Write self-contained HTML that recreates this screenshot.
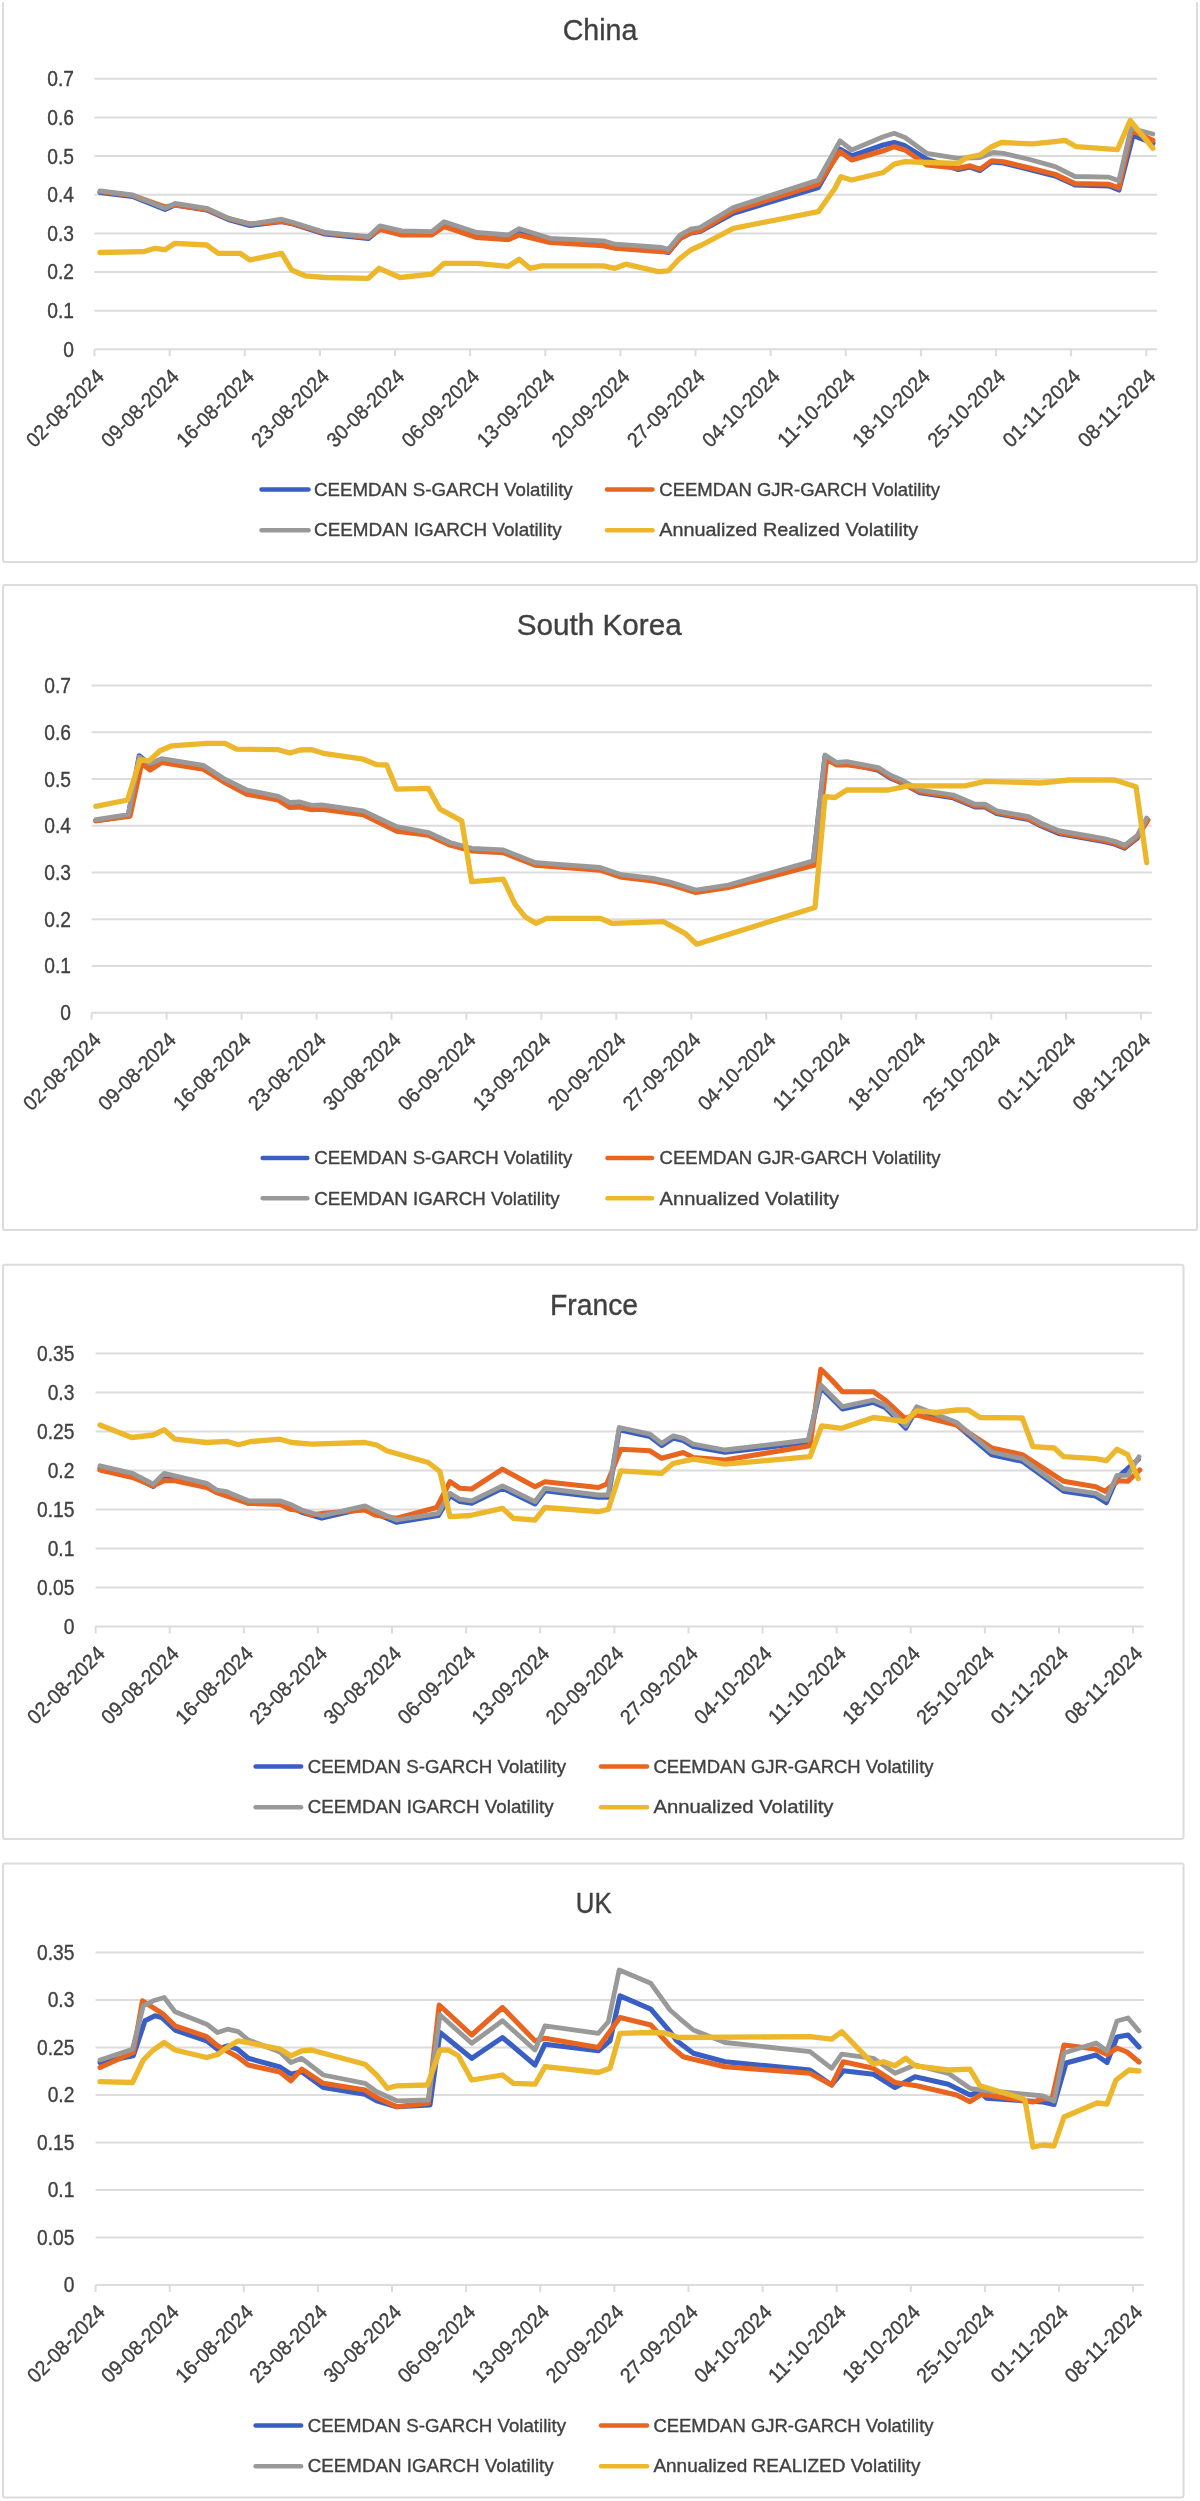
<!DOCTYPE html><html><head><meta charset="utf-8"><title>Volatility charts</title><style>html,body{margin:0;padding:0;background:#fff;width:1200px;height:2501px;overflow:hidden}svg{display:block;filter:blur(0.45px)}text{font-family:"Liberation Sans",sans-serif;fill:#404040;stroke:#404040;stroke-width:0.35px}</style></head><body>
<svg width="1200" height="2501" viewBox="0 0 1200 2501">
<rect x="0" y="0" width="1200" height="2501" fill="#fff"/>
<rect x="3" y="-10" width="1194" height="572" rx="2" fill="#fff" stroke="#dcdcdc" stroke-width="2"/>
<text x="600" y="40.3" font-size="30" text-anchor="middle" textLength="74.7" lengthAdjust="spacingAndGlyphs">China</text>
<text x="74" y="356.7" font-size="21.5" text-anchor="end" textLength="10.7" lengthAdjust="spacingAndGlyphs">0</text>
<line x1="94.5" y1="310.7" x2="1157" y2="310.7" stroke="#dcdcdc" stroke-width="2"/>
<text x="74" y="318.1" font-size="21.5" text-anchor="end" textLength="26.7" lengthAdjust="spacingAndGlyphs">0.1</text>
<line x1="94.5" y1="272" x2="1157" y2="272" stroke="#dcdcdc" stroke-width="2"/>
<text x="74" y="279.4" font-size="21.5" text-anchor="end" textLength="26.7" lengthAdjust="spacingAndGlyphs">0.2</text>
<line x1="94.5" y1="233.4" x2="1157" y2="233.4" stroke="#dcdcdc" stroke-width="2"/>
<text x="74" y="240.8" font-size="21.5" text-anchor="end" textLength="26.7" lengthAdjust="spacingAndGlyphs">0.3</text>
<line x1="94.5" y1="194.7" x2="1157" y2="194.7" stroke="#dcdcdc" stroke-width="2"/>
<text x="74" y="202.1" font-size="21.5" text-anchor="end" textLength="26.7" lengthAdjust="spacingAndGlyphs">0.4</text>
<line x1="94.5" y1="156.1" x2="1157" y2="156.1" stroke="#dcdcdc" stroke-width="2"/>
<text x="74" y="163.5" font-size="21.5" text-anchor="end" textLength="26.7" lengthAdjust="spacingAndGlyphs">0.5</text>
<line x1="94.5" y1="117.4" x2="1157" y2="117.4" stroke="#dcdcdc" stroke-width="2"/>
<text x="74" y="124.8" font-size="21.5" text-anchor="end" textLength="26.7" lengthAdjust="spacingAndGlyphs">0.6</text>
<line x1="94.5" y1="78.8" x2="1157" y2="78.8" stroke="#dcdcdc" stroke-width="2"/>
<text x="74" y="86.2" font-size="21.5" text-anchor="end" textLength="26.7" lengthAdjust="spacingAndGlyphs">0.7</text>
<line x1="94.5" y1="349.3" x2="1157" y2="349.3" stroke="#dcdcdc" stroke-width="2"/>
<line x1="94.5" y1="349.3" x2="94.5" y2="356.3" stroke="#dcdcdc" stroke-width="2"/>
<text x="105.1" y="377.7" font-size="20.5" text-anchor="end" textLength="100" lengthAdjust="spacingAndGlyphs" transform="rotate(-45 105.1 377.7)">02-08-2024</text>
<line x1="169.6" y1="349.3" x2="169.6" y2="356.3" stroke="#dcdcdc" stroke-width="2"/>
<text x="180.2" y="377.7" font-size="20.5" text-anchor="end" textLength="100" lengthAdjust="spacingAndGlyphs" transform="rotate(-45 180.2 377.7)">09-08-2024</text>
<line x1="244.8" y1="349.3" x2="244.8" y2="356.3" stroke="#dcdcdc" stroke-width="2"/>
<text x="255.4" y="377.7" font-size="20.5" text-anchor="end" textLength="100" lengthAdjust="spacingAndGlyphs" transform="rotate(-45 255.4 377.7)">16-08-2024</text>
<line x1="319.9" y1="349.3" x2="319.9" y2="356.3" stroke="#dcdcdc" stroke-width="2"/>
<text x="330.5" y="377.7" font-size="20.5" text-anchor="end" textLength="100" lengthAdjust="spacingAndGlyphs" transform="rotate(-45 330.5 377.7)">23-08-2024</text>
<line x1="395" y1="349.3" x2="395" y2="356.3" stroke="#dcdcdc" stroke-width="2"/>
<text x="405.6" y="377.7" font-size="20.5" text-anchor="end" textLength="100" lengthAdjust="spacingAndGlyphs" transform="rotate(-45 405.6 377.7)">30-08-2024</text>
<line x1="470.1" y1="349.3" x2="470.1" y2="356.3" stroke="#dcdcdc" stroke-width="2"/>
<text x="480.7" y="377.7" font-size="20.5" text-anchor="end" textLength="100" lengthAdjust="spacingAndGlyphs" transform="rotate(-45 480.7 377.7)">06-09-2024</text>
<line x1="545.3" y1="349.3" x2="545.3" y2="356.3" stroke="#dcdcdc" stroke-width="2"/>
<text x="555.9" y="377.7" font-size="20.5" text-anchor="end" textLength="100" lengthAdjust="spacingAndGlyphs" transform="rotate(-45 555.9 377.7)">13-09-2024</text>
<line x1="620.4" y1="349.3" x2="620.4" y2="356.3" stroke="#dcdcdc" stroke-width="2"/>
<text x="631" y="377.7" font-size="20.5" text-anchor="end" textLength="100" lengthAdjust="spacingAndGlyphs" transform="rotate(-45 631 377.7)">20-09-2024</text>
<line x1="695.5" y1="349.3" x2="695.5" y2="356.3" stroke="#dcdcdc" stroke-width="2"/>
<text x="706.1" y="377.7" font-size="20.5" text-anchor="end" textLength="100" lengthAdjust="spacingAndGlyphs" transform="rotate(-45 706.1 377.7)">27-09-2024</text>
<line x1="770.6" y1="349.3" x2="770.6" y2="356.3" stroke="#dcdcdc" stroke-width="2"/>
<text x="781.2" y="377.7" font-size="20.5" text-anchor="end" textLength="100" lengthAdjust="spacingAndGlyphs" transform="rotate(-45 781.2 377.7)">04-10-2024</text>
<line x1="845.8" y1="349.3" x2="845.8" y2="356.3" stroke="#dcdcdc" stroke-width="2"/>
<text x="856.4" y="377.7" font-size="20.5" text-anchor="end" textLength="100" lengthAdjust="spacingAndGlyphs" transform="rotate(-45 856.4 377.7)">11-10-2024</text>
<line x1="920.9" y1="349.3" x2="920.9" y2="356.3" stroke="#dcdcdc" stroke-width="2"/>
<text x="931.5" y="377.7" font-size="20.5" text-anchor="end" textLength="100" lengthAdjust="spacingAndGlyphs" transform="rotate(-45 931.5 377.7)">18-10-2024</text>
<line x1="996" y1="349.3" x2="996" y2="356.3" stroke="#dcdcdc" stroke-width="2"/>
<text x="1006.6" y="377.7" font-size="20.5" text-anchor="end" textLength="100" lengthAdjust="spacingAndGlyphs" transform="rotate(-45 1006.6 377.7)">25-10-2024</text>
<line x1="1071.1" y1="349.3" x2="1071.1" y2="356.3" stroke="#dcdcdc" stroke-width="2"/>
<text x="1081.7" y="377.7" font-size="20.5" text-anchor="end" textLength="100" lengthAdjust="spacingAndGlyphs" transform="rotate(-45 1081.7 377.7)">01-11-2024</text>
<line x1="1146.3" y1="349.3" x2="1146.3" y2="356.3" stroke="#dcdcdc" stroke-width="2"/>
<text x="1156.9" y="377.7" font-size="20.5" text-anchor="end" textLength="100" lengthAdjust="spacingAndGlyphs" transform="rotate(-45 1156.9 377.7)">08-11-2024</text>
<path d="M100 192.5 L132.5 196.5 L165 209.5 L175 205 L206.7 210 L228.3 219.5 L250 225.5 L281.7 221.5 L293.3 224 L325 234 L368.3 238.5 L380 229 L401.7 234 L431.7 234.5 L444.2 225 L476.7 236 L508.3 238.5 L519.2 232.5 L550 241.5 L603.3 244.5 L615 247.5 L661.7 251 L668.3 252.5 L680 238.5 L690.8 233 L700 231.5 L733.3 213.3 L818.3 187.5 L840 149.2 L851.7 155.8 L883.3 145 L894.2 142.5 L905 145.8 L926.7 159.2 L958.3 169.5 L970 167 L980 170.5 L991.7 162 L1003.3 163 L1029.7 169.5 L1055.2 176 L1075 185 L1109 186 L1118.9 190 L1133 135.4 L1152.9 143.2" fill="none" stroke="#3a5fc4" stroke-width="5.1" stroke-linejoin="round" stroke-linecap="round"/>
<path d="M100 191.5 L132.5 195.5 L165 207 L175 205 L206.7 209.5 L228.3 218.5 L250 224 L281.7 221.5 L293.3 223.5 L325 233 L368.3 237.5 L380 229.2 L401.7 235 L431.7 235 L444.2 226.7 L476.7 237.5 L508.3 239.7 L519.2 235 L550 242.5 L603.3 245.8 L615 248.3 L661.7 251.7 L668.3 251.7 L680 238.3 L690.8 232.5 L700 230.8 L733.3 210.8 L818.3 184.2 L840 151.7 L851.7 160 L883.3 150.8 L894.2 146.7 L905 150 L926.7 165 L958.3 168.3 L970 165.8 L980 169.2 L991.7 160.8 L1003.3 161.7 L1029.7 168 L1055.2 174.4 L1075 183.6 L1109 184.3 L1118.9 187.8 L1131.7 130.5 L1152.9 140.4" fill="none" stroke="#e8641f" stroke-width="5.1" stroke-linejoin="round" stroke-linecap="round"/>
<path d="M100 190.8 L132.5 195 L165 208.3 L175 203.3 L206.7 208.3 L228.3 218.3 L250 224.2 L281.7 219.2 L293.3 222.5 L325 232.5 L368.3 236.7 L380 225.8 L401.7 230.8 L431.7 231.7 L444.2 221.7 L476.7 232.5 L508.3 235 L519.2 228.7 L550 238.3 L603.3 240.8 L615 244.2 L661.7 247.5 L668.3 249.2 L680 235 L690.8 229.2 L700 227.5 L733.3 207.5 L818.3 180 L840 140.8 L851.7 150 L883.3 136.7 L894.2 133.3 L905 137.5 L926.7 153.3 L958.3 158.3 L980 157.5 L993.3 152.5 L1003.3 153.3 L1029.7 159.5 L1055.2 166.6 L1075 176.5 L1109 177.2 L1118.9 180.7 L1131 128.3 L1152.9 134" fill="none" stroke="#999999" stroke-width="4.8" stroke-linejoin="round" stroke-linecap="round"/>
<path d="M100 252.5 L143.3 251.7 L155 248.3 L165 249.7 L175 243.3 L206.7 245 L218.3 253.3 L240 253.3 L250 260 L281.7 253.3 L291.7 270 L305 275.8 L325 277.5 L368.3 278.3 L379.2 268.3 L400 277.5 L431.7 274.2 L444.2 263.3 L476.7 263.3 L508.3 266.3 L519.2 259.2 L530 268.3 L541.7 265.8 L603.3 265.8 L615 268.3 L625.8 264.2 L658.3 271.7 L668.3 270.8 L680 258.3 L690.8 250 L701.7 245 L733.3 228.3 L818.3 211.7 L835 188.3 L840.8 176.7 L851.7 180 L883.3 172.5 L894.2 164.2 L905 161.7 L926.7 162.5 L958.3 163.3 L966.7 157.5 L980 155 L991.7 146.7 L1001.3 142.5 L1032.5 143.9 L1052.3 141.8 L1065 140.4 L1076.4 146.7 L1117.5 149.6 L1130.2 120.5 L1152.9 148.2" fill="none" stroke="#ecb72b" stroke-width="5.3" stroke-linejoin="round" stroke-linecap="round"/>
<line x1="261.5" y1="489.5" x2="308.5" y2="489.5" stroke="#3a5fc4" stroke-width="4.5" stroke-linecap="round"/>
<text x="314" y="495.7" font-size="19" textLength="258.7" lengthAdjust="spacingAndGlyphs">CEEMDAN S-GARCH Volatility</text>
<line x1="607" y1="489.5" x2="652.5" y2="489.5" stroke="#e8641f" stroke-width="4.5" stroke-linecap="round"/>
<text x="659.3" y="495.7" font-size="19" textLength="280.7" lengthAdjust="spacingAndGlyphs">CEEMDAN GJR-GARCH Volatility</text>
<line x1="261.5" y1="530.2" x2="308.5" y2="530.2" stroke="#999999" stroke-width="4.5" stroke-linecap="round"/>
<text x="314" y="536.4" font-size="19" textLength="247.7" lengthAdjust="spacingAndGlyphs">CEEMDAN IGARCH Volatility</text>
<line x1="607" y1="530.2" x2="652.5" y2="530.2" stroke="#ecb72b" stroke-width="4.5" stroke-linecap="round"/>
<text x="659.3" y="536.4" font-size="19" textLength="259" lengthAdjust="spacingAndGlyphs">Annualized Realized Volatility</text>
<rect x="3" y="584.9" width="1194" height="645.1" rx="2" fill="#fff" stroke="#dcdcdc" stroke-width="2"/>
<text x="599.2" y="635.3" font-size="30" text-anchor="middle" textLength="165" lengthAdjust="spacingAndGlyphs">South Korea</text>
<text x="71" y="1020.1" font-size="21.5" text-anchor="end" textLength="10.7" lengthAdjust="spacingAndGlyphs">0</text>
<line x1="91.6" y1="966" x2="1151.8" y2="966" stroke="#dcdcdc" stroke-width="2"/>
<text x="71" y="973.4" font-size="21.5" text-anchor="end" textLength="26.7" lengthAdjust="spacingAndGlyphs">0.1</text>
<line x1="91.6" y1="919.2" x2="1151.8" y2="919.2" stroke="#dcdcdc" stroke-width="2"/>
<text x="71" y="926.6" font-size="21.5" text-anchor="end" textLength="26.7" lengthAdjust="spacingAndGlyphs">0.2</text>
<line x1="91.6" y1="872.5" x2="1151.8" y2="872.5" stroke="#dcdcdc" stroke-width="2"/>
<text x="71" y="879.9" font-size="21.5" text-anchor="end" textLength="26.7" lengthAdjust="spacingAndGlyphs">0.3</text>
<line x1="91.6" y1="825.8" x2="1151.8" y2="825.8" stroke="#dcdcdc" stroke-width="2"/>
<text x="71" y="833.2" font-size="21.5" text-anchor="end" textLength="26.7" lengthAdjust="spacingAndGlyphs">0.4</text>
<line x1="91.6" y1="779.1" x2="1151.8" y2="779.1" stroke="#dcdcdc" stroke-width="2"/>
<text x="71" y="786.5" font-size="21.5" text-anchor="end" textLength="26.7" lengthAdjust="spacingAndGlyphs">0.5</text>
<line x1="91.6" y1="732.3" x2="1151.8" y2="732.3" stroke="#dcdcdc" stroke-width="2"/>
<text x="71" y="739.7" font-size="21.5" text-anchor="end" textLength="26.7" lengthAdjust="spacingAndGlyphs">0.6</text>
<line x1="91.6" y1="685.6" x2="1151.8" y2="685.6" stroke="#dcdcdc" stroke-width="2"/>
<text x="71" y="693" font-size="21.5" text-anchor="end" textLength="26.7" lengthAdjust="spacingAndGlyphs">0.7</text>
<line x1="91.6" y1="1012.7" x2="1151.8" y2="1012.7" stroke="#dcdcdc" stroke-width="2"/>
<line x1="91.6" y1="1012.7" x2="91.6" y2="1019.7" stroke="#dcdcdc" stroke-width="2"/>
<text x="102.2" y="1041.1" font-size="20.5" text-anchor="end" textLength="100" lengthAdjust="spacingAndGlyphs" transform="rotate(-45 102.2 1041.1)">02-08-2024</text>
<line x1="166.6" y1="1012.7" x2="166.6" y2="1019.7" stroke="#dcdcdc" stroke-width="2"/>
<text x="177.2" y="1041.1" font-size="20.5" text-anchor="end" textLength="100" lengthAdjust="spacingAndGlyphs" transform="rotate(-45 177.2 1041.1)">09-08-2024</text>
<line x1="241.5" y1="1012.7" x2="241.5" y2="1019.7" stroke="#dcdcdc" stroke-width="2"/>
<text x="252.1" y="1041.1" font-size="20.5" text-anchor="end" textLength="100" lengthAdjust="spacingAndGlyphs" transform="rotate(-45 252.1 1041.1)">16-08-2024</text>
<line x1="316.5" y1="1012.7" x2="316.5" y2="1019.7" stroke="#dcdcdc" stroke-width="2"/>
<text x="327.1" y="1041.1" font-size="20.5" text-anchor="end" textLength="100" lengthAdjust="spacingAndGlyphs" transform="rotate(-45 327.1 1041.1)">23-08-2024</text>
<line x1="391.5" y1="1012.7" x2="391.5" y2="1019.7" stroke="#dcdcdc" stroke-width="2"/>
<text x="402.1" y="1041.1" font-size="20.5" text-anchor="end" textLength="100" lengthAdjust="spacingAndGlyphs" transform="rotate(-45 402.1 1041.1)">30-08-2024</text>
<line x1="466.4" y1="1012.7" x2="466.4" y2="1019.7" stroke="#dcdcdc" stroke-width="2"/>
<text x="477" y="1041.1" font-size="20.5" text-anchor="end" textLength="100" lengthAdjust="spacingAndGlyphs" transform="rotate(-45 477 1041.1)">06-09-2024</text>
<line x1="541.4" y1="1012.7" x2="541.4" y2="1019.7" stroke="#dcdcdc" stroke-width="2"/>
<text x="552" y="1041.1" font-size="20.5" text-anchor="end" textLength="100" lengthAdjust="spacingAndGlyphs" transform="rotate(-45 552 1041.1)">13-09-2024</text>
<line x1="616.3" y1="1012.7" x2="616.3" y2="1019.7" stroke="#dcdcdc" stroke-width="2"/>
<text x="626.9" y="1041.1" font-size="20.5" text-anchor="end" textLength="100" lengthAdjust="spacingAndGlyphs" transform="rotate(-45 626.9 1041.1)">20-09-2024</text>
<line x1="691.3" y1="1012.7" x2="691.3" y2="1019.7" stroke="#dcdcdc" stroke-width="2"/>
<text x="701.9" y="1041.1" font-size="20.5" text-anchor="end" textLength="100" lengthAdjust="spacingAndGlyphs" transform="rotate(-45 701.9 1041.1)">27-09-2024</text>
<line x1="766.3" y1="1012.7" x2="766.3" y2="1019.7" stroke="#dcdcdc" stroke-width="2"/>
<text x="776.9" y="1041.1" font-size="20.5" text-anchor="end" textLength="100" lengthAdjust="spacingAndGlyphs" transform="rotate(-45 776.9 1041.1)">04-10-2024</text>
<line x1="841.2" y1="1012.7" x2="841.2" y2="1019.7" stroke="#dcdcdc" stroke-width="2"/>
<text x="851.8" y="1041.1" font-size="20.5" text-anchor="end" textLength="100" lengthAdjust="spacingAndGlyphs" transform="rotate(-45 851.8 1041.1)">11-10-2024</text>
<line x1="916.2" y1="1012.7" x2="916.2" y2="1019.7" stroke="#dcdcdc" stroke-width="2"/>
<text x="926.8" y="1041.1" font-size="20.5" text-anchor="end" textLength="100" lengthAdjust="spacingAndGlyphs" transform="rotate(-45 926.8 1041.1)">18-10-2024</text>
<line x1="991.2" y1="1012.7" x2="991.2" y2="1019.7" stroke="#dcdcdc" stroke-width="2"/>
<text x="1001.8" y="1041.1" font-size="20.5" text-anchor="end" textLength="100" lengthAdjust="spacingAndGlyphs" transform="rotate(-45 1001.8 1041.1)">25-10-2024</text>
<line x1="1066.1" y1="1012.7" x2="1066.1" y2="1019.7" stroke="#dcdcdc" stroke-width="2"/>
<text x="1076.7" y="1041.1" font-size="20.5" text-anchor="end" textLength="100" lengthAdjust="spacingAndGlyphs" transform="rotate(-45 1076.7 1041.1)">01-11-2024</text>
<line x1="1141.1" y1="1012.7" x2="1141.1" y2="1019.7" stroke="#dcdcdc" stroke-width="2"/>
<text x="1151.7" y="1041.1" font-size="20.5" text-anchor="end" textLength="100" lengthAdjust="spacingAndGlyphs" transform="rotate(-45 1151.7 1041.1)">08-11-2024</text>
<path d="M95.8 820.7 L128.3 815.7 L139.2 755.8 L150 764.7 L161.7 759.7 L203.3 766.3 L223.3 779.3 L246.7 791 L278.3 797.3 L290 803.5 L300 803 L311.7 806.3 L321.7 806 L363.3 811.8 L396.7 827.7 L428.3 834 L450 844 L471.7 849.8 L503.3 851.5 L535 864 L545 864.8 L600 869 L621.7 876.2 L653.3 879.8 L670 883.5 L695.8 891.5 L728.3 886.5 L813.3 862.3 L825 756.5 L836.7 764 L846.7 763.2 L878.3 770.3 L890 777.8 L901.7 782.8 L920 792.8 L953.3 797.8 L975 807 L985 807 L996.7 813.6 L1028.7 819.5 L1040 825.5 L1058.7 833.5 L1104 841.5 L1114.7 844.1 L1124.7 848.1 L1137.3 838.1 L1146.7 820.8" fill="none" stroke="#3a5fc4" stroke-width="5.1" stroke-linejoin="round" stroke-linecap="round"/>
<path d="M95.8 820.8 L130 816.3 L141.7 763.3 L150 770 L161.7 762.5 L203.3 769.2 L223.3 781.7 L246.7 794.2 L278.3 800 L290 807.5 L300 807 L311.7 809.7 L321.7 809.2 L363.3 814.7 L396.7 831.3 L428.3 835.1 L450 845.1 L471.7 850.9 L503.3 852.6 L535 865.1 L545 865.9 L600 870.1 L621.7 877.3 L653.3 880.9 L670 884.6 L695.8 892.6 L728.3 887.6 L815 865 L826.7 759.2 L836.7 765 L846.7 764.7 L878.3 769.3 L890 776.8 L920 791.8 L953.3 796.8 L975 806 L985 806 L996.7 812.6 L1028 818.4 L1040 824.5 L1060 832.7 L1104 840.5 L1114.7 843.1 L1124.7 847.1 L1137.3 837.1 L1148 819.8" fill="none" stroke="#e8641f" stroke-width="5.1" stroke-linejoin="round" stroke-linecap="round"/>
<path d="M95.8 819.7 L128.3 814.7 L139.2 757 L150 763.7 L161.7 758.7 L203.3 765.3 L223.3 778.3 L246.7 790 L278.3 796.3 L290 802.5 L300 802 L311.7 805.3 L321.7 805 L363.3 810.8 L396.7 826.7 L428.3 832.5 L450 842.5 L471.7 848.3 L503.3 850 L535 862.5 L545 863.3 L600 867.5 L621.7 874.7 L653.3 878.3 L670 882 L695.8 890 L728.3 885 L813.3 860.8 L825 755 L836.7 762.5 L846.7 761.7 L878.3 767.5 L890 775 L901.7 780 L920 790 L953.3 795 L975 804.2 L985 804.2 L996.7 810.8 L1028.7 816.7 L1040 822.7 L1058.7 830.7 L1104 838.7 L1114.7 841.3 L1124.7 845.3 L1137.3 835.3 L1146.7 818" fill="none" stroke="#999999" stroke-width="4.8" stroke-linejoin="round" stroke-linecap="round"/>
<path d="M95.8 806.3 L127.5 800 L140 760 L149.2 760.8 L160 750.8 L171.7 745.8 L206.7 743.3 L225 743.3 L236.7 749.2 L278.3 749.7 L290 753 L300 750 L311.7 749.7 L323.3 753.3 L363.3 759.2 L376.7 764.7 L386.7 765 L396.7 789.2 L428.3 788.3 L440 809.2 L461.7 820.8 L471.7 881.7 L503.3 879.2 L515 904.2 L525 916.7 L535.8 923.3 L546.7 918.3 L600 918.3 L611.7 923.3 L663.3 921.7 L685 933.3 L696.7 944.2 L815 907.5 L825 796.7 L835 797.5 L846.7 790 L888.3 790 L908.3 785.8 L965 785.8 L985 781.3 L1040 783 L1069.3 780 L1114.7 780 L1136 786.7 L1146.7 862.7" fill="none" stroke="#ecb72b" stroke-width="5.3" stroke-linejoin="round" stroke-linecap="round"/>
<line x1="262.7" y1="1158" x2="307.3" y2="1158" stroke="#3a5fc4" stroke-width="4.5" stroke-linecap="round"/>
<text x="314.2" y="1164.2" font-size="19" textLength="258.1" lengthAdjust="spacingAndGlyphs">CEEMDAN S-GARCH Volatility</text>
<line x1="607.5" y1="1158" x2="652" y2="1158" stroke="#e8641f" stroke-width="4.5" stroke-linecap="round"/>
<text x="659.6" y="1164.2" font-size="19" textLength="280.8" lengthAdjust="spacingAndGlyphs">CEEMDAN GJR-GARCH Volatility</text>
<line x1="262.7" y1="1198.3" x2="307.3" y2="1198.3" stroke="#999999" stroke-width="4.5" stroke-linecap="round"/>
<text x="314.2" y="1204.5" font-size="19" textLength="245.5" lengthAdjust="spacingAndGlyphs">CEEMDAN IGARCH Volatility</text>
<line x1="607.5" y1="1198.3" x2="652" y2="1198.3" stroke="#ecb72b" stroke-width="4.5" stroke-linecap="round"/>
<text x="659.6" y="1204.5" font-size="19" textLength="179.4" lengthAdjust="spacingAndGlyphs">Annualized Volatility</text>
<rect x="3" y="1264.7" width="1180.5" height="574.3" rx="2" fill="#fff" stroke="#dcdcdc" stroke-width="2"/>
<text x="594" y="1315" font-size="30" text-anchor="middle" textLength="88" lengthAdjust="spacingAndGlyphs">France</text>
<text x="74.4" y="1633.8" font-size="21.5" text-anchor="end" textLength="10.7" lengthAdjust="spacingAndGlyphs">0</text>
<line x1="95.6" y1="1587.4" x2="1143.7" y2="1587.4" stroke="#dcdcdc" stroke-width="2"/>
<text x="74.4" y="1594.8" font-size="21.5" text-anchor="end" textLength="37.4" lengthAdjust="spacingAndGlyphs">0.05</text>
<line x1="95.6" y1="1548.5" x2="1143.7" y2="1548.5" stroke="#dcdcdc" stroke-width="2"/>
<text x="74.4" y="1555.9" font-size="21.5" text-anchor="end" textLength="26.7" lengthAdjust="spacingAndGlyphs">0.1</text>
<line x1="95.6" y1="1509.5" x2="1143.7" y2="1509.5" stroke="#dcdcdc" stroke-width="2"/>
<text x="74.4" y="1516.9" font-size="21.5" text-anchor="end" textLength="37.4" lengthAdjust="spacingAndGlyphs">0.15</text>
<line x1="95.6" y1="1470.5" x2="1143.7" y2="1470.5" stroke="#dcdcdc" stroke-width="2"/>
<text x="74.4" y="1477.9" font-size="21.5" text-anchor="end" textLength="26.7" lengthAdjust="spacingAndGlyphs">0.2</text>
<line x1="95.6" y1="1431.5" x2="1143.7" y2="1431.5" stroke="#dcdcdc" stroke-width="2"/>
<text x="74.4" y="1438.9" font-size="21.5" text-anchor="end" textLength="37.4" lengthAdjust="spacingAndGlyphs">0.25</text>
<line x1="95.6" y1="1392.6" x2="1143.7" y2="1392.6" stroke="#dcdcdc" stroke-width="2"/>
<text x="74.4" y="1400" font-size="21.5" text-anchor="end" textLength="26.7" lengthAdjust="spacingAndGlyphs">0.3</text>
<line x1="95.6" y1="1353.6" x2="1143.7" y2="1353.6" stroke="#dcdcdc" stroke-width="2"/>
<text x="74.4" y="1361" font-size="21.5" text-anchor="end" textLength="37.4" lengthAdjust="spacingAndGlyphs">0.35</text>
<line x1="95.6" y1="1626.4" x2="1143.7" y2="1626.4" stroke="#dcdcdc" stroke-width="2"/>
<line x1="95.6" y1="1626.4" x2="95.6" y2="1633.4" stroke="#dcdcdc" stroke-width="2"/>
<text x="106.2" y="1654.8" font-size="20.5" text-anchor="end" textLength="100" lengthAdjust="spacingAndGlyphs" transform="rotate(-45 106.2 1654.8)">02-08-2024</text>
<line x1="169.7" y1="1626.4" x2="169.7" y2="1633.4" stroke="#dcdcdc" stroke-width="2"/>
<text x="180.3" y="1654.8" font-size="20.5" text-anchor="end" textLength="100" lengthAdjust="spacingAndGlyphs" transform="rotate(-45 180.3 1654.8)">09-08-2024</text>
<line x1="243.8" y1="1626.4" x2="243.8" y2="1633.4" stroke="#dcdcdc" stroke-width="2"/>
<text x="254.4" y="1654.8" font-size="20.5" text-anchor="end" textLength="100" lengthAdjust="spacingAndGlyphs" transform="rotate(-45 254.4 1654.8)">16-08-2024</text>
<line x1="317.9" y1="1626.4" x2="317.9" y2="1633.4" stroke="#dcdcdc" stroke-width="2"/>
<text x="328.5" y="1654.8" font-size="20.5" text-anchor="end" textLength="100" lengthAdjust="spacingAndGlyphs" transform="rotate(-45 328.5 1654.8)">23-08-2024</text>
<line x1="392" y1="1626.4" x2="392" y2="1633.4" stroke="#dcdcdc" stroke-width="2"/>
<text x="402.6" y="1654.8" font-size="20.5" text-anchor="end" textLength="100" lengthAdjust="spacingAndGlyphs" transform="rotate(-45 402.6 1654.8)">30-08-2024</text>
<line x1="466.1" y1="1626.4" x2="466.1" y2="1633.4" stroke="#dcdcdc" stroke-width="2"/>
<text x="476.7" y="1654.8" font-size="20.5" text-anchor="end" textLength="100" lengthAdjust="spacingAndGlyphs" transform="rotate(-45 476.7 1654.8)">06-09-2024</text>
<line x1="540.2" y1="1626.4" x2="540.2" y2="1633.4" stroke="#dcdcdc" stroke-width="2"/>
<text x="550.8" y="1654.8" font-size="20.5" text-anchor="end" textLength="100" lengthAdjust="spacingAndGlyphs" transform="rotate(-45 550.8 1654.8)">13-09-2024</text>
<line x1="614.4" y1="1626.4" x2="614.4" y2="1633.4" stroke="#dcdcdc" stroke-width="2"/>
<text x="625" y="1654.8" font-size="20.5" text-anchor="end" textLength="100" lengthAdjust="spacingAndGlyphs" transform="rotate(-45 625 1654.8)">20-09-2024</text>
<line x1="688.5" y1="1626.4" x2="688.5" y2="1633.4" stroke="#dcdcdc" stroke-width="2"/>
<text x="699.1" y="1654.8" font-size="20.5" text-anchor="end" textLength="100" lengthAdjust="spacingAndGlyphs" transform="rotate(-45 699.1 1654.8)">27-09-2024</text>
<line x1="762.6" y1="1626.4" x2="762.6" y2="1633.4" stroke="#dcdcdc" stroke-width="2"/>
<text x="773.2" y="1654.8" font-size="20.5" text-anchor="end" textLength="100" lengthAdjust="spacingAndGlyphs" transform="rotate(-45 773.2 1654.8)">04-10-2024</text>
<line x1="836.7" y1="1626.4" x2="836.7" y2="1633.4" stroke="#dcdcdc" stroke-width="2"/>
<text x="847.3" y="1654.8" font-size="20.5" text-anchor="end" textLength="100" lengthAdjust="spacingAndGlyphs" transform="rotate(-45 847.3 1654.8)">11-10-2024</text>
<line x1="910.8" y1="1626.4" x2="910.8" y2="1633.4" stroke="#dcdcdc" stroke-width="2"/>
<text x="921.4" y="1654.8" font-size="20.5" text-anchor="end" textLength="100" lengthAdjust="spacingAndGlyphs" transform="rotate(-45 921.4 1654.8)">18-10-2024</text>
<line x1="984.9" y1="1626.4" x2="984.9" y2="1633.4" stroke="#dcdcdc" stroke-width="2"/>
<text x="995.5" y="1654.8" font-size="20.5" text-anchor="end" textLength="100" lengthAdjust="spacingAndGlyphs" transform="rotate(-45 995.5 1654.8)">25-10-2024</text>
<line x1="1059" y1="1626.4" x2="1059" y2="1633.4" stroke="#dcdcdc" stroke-width="2"/>
<text x="1069.6" y="1654.8" font-size="20.5" text-anchor="end" textLength="100" lengthAdjust="spacingAndGlyphs" transform="rotate(-45 1069.6 1654.8)">01-11-2024</text>
<line x1="1133.1" y1="1626.4" x2="1133.1" y2="1633.4" stroke="#dcdcdc" stroke-width="2"/>
<text x="1143.7" y="1654.8" font-size="20.5" text-anchor="end" textLength="100" lengthAdjust="spacingAndGlyphs" transform="rotate(-45 1143.7 1654.8)">08-11-2024</text>
<path d="M100 1468.1 L132.5 1475.6 L153.3 1486.5 L164.2 1475.6 L206.7 1485.6 L216.7 1492.3 L226.7 1494 L248.3 1503.1 L280 1503.1 L290 1506.5 L301.7 1512.3 L321.7 1518.1 L365 1508.1 L375 1513.1 L396.7 1522.3 L438.3 1515.6 L450 1495.6 L460 1501.5 L471.7 1503.1 L502.5 1488.1 L535 1504 L545 1490.6 L598.3 1497.3 L608.3 1497.3 L619.2 1429.8 L650 1436.5 L661.7 1445.6 L673.3 1438.1 L683.3 1440.6 L693.3 1446.5 L725 1452.3 L808.3 1442.3 L820.8 1387.3 L842.5 1409 L873.3 1402.3 L885 1407.3 L905.8 1428.1 L916.7 1409 L956.7 1424.8 L991.7 1454.7 L1022.3 1461.3 L1063.7 1491.3 L1095.7 1496 L1106.3 1502.7 L1117 1478 L1138.3 1459.3" fill="none" stroke="#3a5fc4" stroke-width="5.1" stroke-linejoin="round" stroke-linecap="round"/>
<path d="M100 1470 L132.5 1477.5 L153.3 1485.8 L164.2 1480.8 L175 1480.8 L206.7 1487.5 L216.7 1492.5 L248.3 1503.3 L280 1504.5 L290 1509.2 L301.7 1510.8 L311.7 1515 L323.3 1513.3 L365 1510 L375 1515 L396.7 1518.3 L436.7 1507.5 L450 1481.7 L460 1488.3 L471.7 1489 L502.5 1469.2 L535 1486.7 L545 1481.7 L598.3 1487.5 L606.7 1484.2 L620.8 1449.2 L650 1450.8 L661.7 1458.3 L683.3 1452.5 L693.3 1457.5 L725 1460 L810 1445.8 L820.8 1369.2 L831.7 1380 L842.5 1391.7 L873.3 1391.7 L885 1400 L905 1418.3 L916.7 1415 L956.7 1425 L991.7 1448 L1022.3 1454.7 L1063.7 1481.3 L1095.7 1486.7 L1105 1491.3 L1118.3 1480.7 L1127.7 1481.3 L1139.7 1470" fill="none" stroke="#e8641f" stroke-width="5.1" stroke-linejoin="round" stroke-linecap="round"/>
<path d="M100 1465.8 L132.5 1473.3 L153.3 1484.2 L164.2 1473.3 L206.7 1483.3 L216.7 1490 L226.7 1491.7 L248.3 1500.8 L280 1500.8 L290 1504.2 L301.7 1510 L321.7 1515.8 L365 1505.8 L375 1510.8 L396.7 1520 L438.3 1513.3 L450 1493.3 L460 1499.2 L471.7 1500.8 L502.5 1485.8 L535 1501.7 L545 1488.3 L598.3 1495 L608.3 1495 L619.2 1427.5 L650 1434.2 L661.7 1443.3 L673.3 1435.8 L683.3 1438.3 L693.3 1444.2 L725 1450 L808.3 1440 L820.8 1385 L842.5 1406.7 L873.3 1400 L885 1405 L905.8 1425.8 L916.7 1406.7 L956.7 1422.5 L991.7 1452 L1022.3 1458.7 L1063.7 1488.7 L1095.7 1493.3 L1106.3 1499.3 L1117 1475.3 L1127.7 1475.3 L1139 1456.7" fill="none" stroke="#999999" stroke-width="4.8" stroke-linejoin="round" stroke-linecap="round"/>
<path d="M100 1425 L131.7 1437.5 L153.3 1435 L164.2 1429.7 L175 1439.2 L206.7 1442.5 L226.7 1441.3 L238.3 1444.7 L250 1441.7 L280 1439.2 L291.7 1442.5 L311.7 1444.2 L365 1442.5 L376.7 1445 L386.7 1450.8 L428.3 1462.5 L440 1471.7 L450 1516.7 L470 1515.5 L502.5 1508.3 L513.3 1518.3 L535 1520 L545 1507.5 L598.3 1511.7 L608.3 1509.2 L620.8 1470.8 L661.7 1473.3 L673.3 1463.3 L693.3 1459.2 L725 1464.2 L810 1456.7 L821.7 1425.8 L841.7 1428.3 L873.3 1417.5 L893.3 1420 L905 1421.7 L916.7 1410.8 L936.7 1412.5 L956.7 1410 L968.3 1410 L980 1417.5 L1022.3 1418 L1033 1446.7 L1054.3 1448 L1063.7 1456.7 L1095.7 1458.7 L1106.3 1460.7 L1117 1449.3 L1127.7 1454.7 L1138.3 1478.7" fill="none" stroke="#ecb72b" stroke-width="5.3" stroke-linejoin="round" stroke-linecap="round"/>
<line x1="255.6" y1="1766.4" x2="301.1" y2="1766.4" stroke="#3a5fc4" stroke-width="4.5" stroke-linecap="round"/>
<text x="307.7" y="1772.6" font-size="19" textLength="258.3" lengthAdjust="spacingAndGlyphs">CEEMDAN S-GARCH Volatility</text>
<line x1="601" y1="1766.4" x2="647" y2="1766.4" stroke="#e8641f" stroke-width="4.5" stroke-linecap="round"/>
<text x="653.4" y="1772.6" font-size="19" textLength="280.2" lengthAdjust="spacingAndGlyphs">CEEMDAN GJR-GARCH Volatility</text>
<line x1="255.6" y1="1807.2" x2="301.1" y2="1807.2" stroke="#999999" stroke-width="4.5" stroke-linecap="round"/>
<text x="307.7" y="1813.4" font-size="19" textLength="246" lengthAdjust="spacingAndGlyphs">CEEMDAN IGARCH Volatility</text>
<line x1="601" y1="1807.2" x2="647" y2="1807.2" stroke="#ecb72b" stroke-width="4.5" stroke-linecap="round"/>
<text x="653.4" y="1813.4" font-size="19" textLength="180" lengthAdjust="spacingAndGlyphs">Annualized Volatility</text>
<rect x="3" y="1863.5" width="1180.5" height="634" rx="2" fill="#fff" stroke="#dcdcdc" stroke-width="2"/>
<text x="593.8" y="1913.3" font-size="30" text-anchor="middle" textLength="35.9" lengthAdjust="spacingAndGlyphs">UK</text>
<text x="74.4" y="2292.4" font-size="21.5" text-anchor="end" textLength="10.7" lengthAdjust="spacingAndGlyphs">0</text>
<line x1="95.6" y1="2237.5" x2="1143.7" y2="2237.5" stroke="#dcdcdc" stroke-width="2"/>
<text x="74.4" y="2244.9" font-size="21.5" text-anchor="end" textLength="37.4" lengthAdjust="spacingAndGlyphs">0.05</text>
<line x1="95.6" y1="2190" x2="1143.7" y2="2190" stroke="#dcdcdc" stroke-width="2"/>
<text x="74.4" y="2197.4" font-size="21.5" text-anchor="end" textLength="26.7" lengthAdjust="spacingAndGlyphs">0.1</text>
<line x1="95.6" y1="2142.5" x2="1143.7" y2="2142.5" stroke="#dcdcdc" stroke-width="2"/>
<text x="74.4" y="2149.9" font-size="21.5" text-anchor="end" textLength="37.4" lengthAdjust="spacingAndGlyphs">0.15</text>
<line x1="95.6" y1="2094.9" x2="1143.7" y2="2094.9" stroke="#dcdcdc" stroke-width="2"/>
<text x="74.4" y="2102.3" font-size="21.5" text-anchor="end" textLength="26.7" lengthAdjust="spacingAndGlyphs">0.2</text>
<line x1="95.6" y1="2047.4" x2="1143.7" y2="2047.4" stroke="#dcdcdc" stroke-width="2"/>
<text x="74.4" y="2054.8" font-size="21.5" text-anchor="end" textLength="37.4" lengthAdjust="spacingAndGlyphs">0.25</text>
<line x1="95.6" y1="1999.9" x2="1143.7" y2="1999.9" stroke="#dcdcdc" stroke-width="2"/>
<text x="74.4" y="2007.3" font-size="21.5" text-anchor="end" textLength="26.7" lengthAdjust="spacingAndGlyphs">0.3</text>
<line x1="95.6" y1="1952.4" x2="1143.7" y2="1952.4" stroke="#dcdcdc" stroke-width="2"/>
<text x="74.4" y="1959.8" font-size="21.5" text-anchor="end" textLength="37.4" lengthAdjust="spacingAndGlyphs">0.35</text>
<line x1="95.6" y1="2285" x2="1143.7" y2="2285" stroke="#dcdcdc" stroke-width="2"/>
<line x1="95.6" y1="2285" x2="95.6" y2="2292" stroke="#dcdcdc" stroke-width="2"/>
<text x="106.2" y="2313.4" font-size="20.5" text-anchor="end" textLength="100" lengthAdjust="spacingAndGlyphs" transform="rotate(-45 106.2 2313.4)">02-08-2024</text>
<line x1="169.7" y1="2285" x2="169.7" y2="2292" stroke="#dcdcdc" stroke-width="2"/>
<text x="180.3" y="2313.4" font-size="20.5" text-anchor="end" textLength="100" lengthAdjust="spacingAndGlyphs" transform="rotate(-45 180.3 2313.4)">09-08-2024</text>
<line x1="243.8" y1="2285" x2="243.8" y2="2292" stroke="#dcdcdc" stroke-width="2"/>
<text x="254.4" y="2313.4" font-size="20.5" text-anchor="end" textLength="100" lengthAdjust="spacingAndGlyphs" transform="rotate(-45 254.4 2313.4)">16-08-2024</text>
<line x1="317.9" y1="2285" x2="317.9" y2="2292" stroke="#dcdcdc" stroke-width="2"/>
<text x="328.5" y="2313.4" font-size="20.5" text-anchor="end" textLength="100" lengthAdjust="spacingAndGlyphs" transform="rotate(-45 328.5 2313.4)">23-08-2024</text>
<line x1="392" y1="2285" x2="392" y2="2292" stroke="#dcdcdc" stroke-width="2"/>
<text x="402.6" y="2313.4" font-size="20.5" text-anchor="end" textLength="100" lengthAdjust="spacingAndGlyphs" transform="rotate(-45 402.6 2313.4)">30-08-2024</text>
<line x1="466.1" y1="2285" x2="466.1" y2="2292" stroke="#dcdcdc" stroke-width="2"/>
<text x="476.7" y="2313.4" font-size="20.5" text-anchor="end" textLength="100" lengthAdjust="spacingAndGlyphs" transform="rotate(-45 476.7 2313.4)">06-09-2024</text>
<line x1="540.2" y1="2285" x2="540.2" y2="2292" stroke="#dcdcdc" stroke-width="2"/>
<text x="550.8" y="2313.4" font-size="20.5" text-anchor="end" textLength="100" lengthAdjust="spacingAndGlyphs" transform="rotate(-45 550.8 2313.4)">13-09-2024</text>
<line x1="614.4" y1="2285" x2="614.4" y2="2292" stroke="#dcdcdc" stroke-width="2"/>
<text x="625" y="2313.4" font-size="20.5" text-anchor="end" textLength="100" lengthAdjust="spacingAndGlyphs" transform="rotate(-45 625 2313.4)">20-09-2024</text>
<line x1="688.5" y1="2285" x2="688.5" y2="2292" stroke="#dcdcdc" stroke-width="2"/>
<text x="699.1" y="2313.4" font-size="20.5" text-anchor="end" textLength="100" lengthAdjust="spacingAndGlyphs" transform="rotate(-45 699.1 2313.4)">27-09-2024</text>
<line x1="762.6" y1="2285" x2="762.6" y2="2292" stroke="#dcdcdc" stroke-width="2"/>
<text x="773.2" y="2313.4" font-size="20.5" text-anchor="end" textLength="100" lengthAdjust="spacingAndGlyphs" transform="rotate(-45 773.2 2313.4)">04-10-2024</text>
<line x1="836.7" y1="2285" x2="836.7" y2="2292" stroke="#dcdcdc" stroke-width="2"/>
<text x="847.3" y="2313.4" font-size="20.5" text-anchor="end" textLength="100" lengthAdjust="spacingAndGlyphs" transform="rotate(-45 847.3 2313.4)">11-10-2024</text>
<line x1="910.8" y1="2285" x2="910.8" y2="2292" stroke="#dcdcdc" stroke-width="2"/>
<text x="921.4" y="2313.4" font-size="20.5" text-anchor="end" textLength="100" lengthAdjust="spacingAndGlyphs" transform="rotate(-45 921.4 2313.4)">18-10-2024</text>
<line x1="984.9" y1="2285" x2="984.9" y2="2292" stroke="#dcdcdc" stroke-width="2"/>
<text x="995.5" y="2313.4" font-size="20.5" text-anchor="end" textLength="100" lengthAdjust="spacingAndGlyphs" transform="rotate(-45 995.5 2313.4)">25-10-2024</text>
<line x1="1059" y1="2285" x2="1059" y2="2292" stroke="#dcdcdc" stroke-width="2"/>
<text x="1069.6" y="2313.4" font-size="20.5" text-anchor="end" textLength="100" lengthAdjust="spacingAndGlyphs" transform="rotate(-45 1069.6 2313.4)">01-11-2024</text>
<line x1="1133.1" y1="2285" x2="1133.1" y2="2292" stroke="#dcdcdc" stroke-width="2"/>
<text x="1143.7" y="2313.4" font-size="20.5" text-anchor="end" textLength="100" lengthAdjust="spacingAndGlyphs" transform="rotate(-45 1143.7 2313.4)">08-11-2024</text>
<path d="M100 2062.5 L133.3 2055.8 L145 2020.8 L155 2015.8 L161.7 2017.5 L175 2030 L206.7 2040.8 L217.5 2049.2 L227.5 2045.8 L237.5 2049.2 L248.3 2058.3 L280 2067 L290.8 2074.2 L301.7 2071.7 L323.3 2087.5 L365 2094.2 L376.7 2100.8 L396.7 2106.7 L430 2105 L440 2032.5 L471.7 2058.3 L502.5 2037.5 L535 2065 L545 2044.2 L598.3 2050.8 L610 2040.8 L620 1995.8 L650.8 2009.2 L670 2031.7 L676.7 2040.8 L693.3 2053.3 L725 2061.7 L810 2070 L831.7 2085 L843.3 2070.8 L873.3 2074.2 L895 2087.5 L915 2076.7 L948.3 2084.2 L970 2095 L980 2091.7 L986.7 2098.3 L1043 2102 L1054 2104.5 L1066 2063 L1096 2055 L1107 2062.5 L1117 2037 L1128 2035 L1139 2047" fill="none" stroke="#3a5fc4" stroke-width="5.1" stroke-linejoin="round" stroke-linecap="round"/>
<path d="M100 2067.5 L133.3 2052.5 L142.5 2000.8 L163.3 2014.2 L175 2025.8 L206.7 2036.7 L217.5 2045.8 L237.5 2056.7 L248.3 2065 L280 2072 L290.8 2080.8 L301.7 2069.2 L323.3 2083.3 L365 2090 L376.7 2097.5 L396.7 2106.7 L428.3 2103.3 L439.2 2005 L471.7 2035 L502.5 2007.5 L535 2040.8 L545 2038.3 L598.3 2047.5 L620 2017.5 L650.8 2025 L670 2045.8 L683.3 2056.7 L693.3 2059.2 L725 2066.7 L810 2073.3 L831.7 2085 L843.3 2061.7 L873.3 2068.3 L895 2082.5 L916.7 2085.8 L956.7 2095 L970 2101.7 L981.7 2094.2 L1033 2102 L1043 2099 L1052 2099 L1064 2045 L1095 2049 L1107 2054.5 L1117 2048 L1127 2052 L1139 2062" fill="none" stroke="#e8641f" stroke-width="5.1" stroke-linejoin="round" stroke-linecap="round"/>
<path d="M100 2060 L132.5 2049.2 L143.3 2005.8 L153.3 2000.8 L164.2 1997.5 L175 2011.7 L206.7 2024.2 L217.5 2032.5 L227.5 2029.2 L238.3 2031.7 L248.3 2040 L280 2052 L290.8 2062.5 L301.7 2058.3 L323.3 2075 L365 2083.3 L376.7 2091.7 L396.7 2100.8 L428.3 2100 L440 2015 L471.7 2043.3 L502.5 2020.8 L535 2050 L545 2025.8 L598.3 2033.3 L608.3 2021.7 L619.2 1970 L650.8 1983.3 L670 2010 L683.3 2021.7 L693.3 2030 L725 2042.5 L810 2051.7 L831.7 2068.3 L841.7 2054.2 L873.3 2058.3 L895 2073.3 L915 2065 L948.3 2073.3 L970 2088.3 L981.7 2090 L1043 2096 L1054 2101 L1064 2053 L1096 2043 L1107 2051 L1117 2021 L1128 2018 L1139 2031" fill="none" stroke="#999999" stroke-width="4.8" stroke-linejoin="round" stroke-linecap="round"/>
<path d="M100 2081.7 L132.5 2082.5 L143.3 2060 L153.3 2050 L164.2 2042.5 L175 2050 L206.7 2057.5 L218.3 2054.2 L228.3 2046.7 L238.3 2040.8 L280 2049 L290.8 2055.8 L301.7 2050.8 L311.7 2050 L323.3 2053.3 L365 2064.2 L376.7 2075 L387.5 2088.3 L396.7 2085.8 L427.5 2085 L440 2050 L448.3 2050 L458.3 2055.8 L471.7 2080 L502.5 2075 L513.3 2083.3 L535 2084.2 L545 2066.7 L598.3 2072.5 L610 2068.3 L620 2033.3 L650.8 2032.5 L665 2033 L678.3 2037.5 L810 2036.7 L831.7 2039.2 L841.7 2031.7 L873.3 2064.2 L883.3 2061.7 L895 2065.8 L905.8 2058.3 L915 2065.8 L948.3 2070 L970 2069.2 L980 2085.8 L1021.7 2098.3 L1025 2100 L1033 2147 L1043 2145 L1054 2146 L1064 2117 L1097 2103 L1107 2104 L1116 2080 L1129 2070 L1139 2071" fill="none" stroke="#ecb72b" stroke-width="5.3" stroke-linejoin="round" stroke-linecap="round"/>
<line x1="255.6" y1="2425.4" x2="301.1" y2="2425.4" stroke="#3a5fc4" stroke-width="4.5" stroke-linecap="round"/>
<text x="307.7" y="2431.6" font-size="19" textLength="258.3" lengthAdjust="spacingAndGlyphs">CEEMDAN S-GARCH Volatility</text>
<line x1="601" y1="2425.4" x2="647" y2="2425.4" stroke="#e8641f" stroke-width="4.5" stroke-linecap="round"/>
<text x="653.4" y="2431.6" font-size="19" textLength="280.2" lengthAdjust="spacingAndGlyphs">CEEMDAN GJR-GARCH Volatility</text>
<line x1="255.6" y1="2466.2" x2="301.1" y2="2466.2" stroke="#999999" stroke-width="4.5" stroke-linecap="round"/>
<text x="307.7" y="2472.4" font-size="19" textLength="246" lengthAdjust="spacingAndGlyphs">CEEMDAN IGARCH Volatility</text>
<line x1="601" y1="2466.2" x2="647" y2="2466.2" stroke="#ecb72b" stroke-width="4.5" stroke-linecap="round"/>
<text x="653.4" y="2472.4" font-size="19" textLength="267" lengthAdjust="spacingAndGlyphs">Annualized REALIZED Volatility</text>
<rect x="0" y="0" width="1200" height="2.2" fill="#fff"/>
</svg></body></html>
